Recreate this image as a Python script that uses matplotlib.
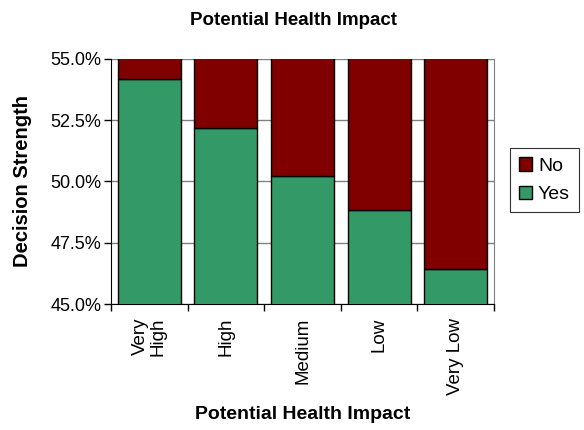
import matplotlib.pyplot as plt
import numpy as np
from matplotlib.ticker import FuncFormatter, FixedLocator

plt.rcParams['font.family'] = ['Liberation Sans', 'DejaVu Sans']

# share of "Yes" decisions per impact level, in percent
categories = ['Very\nHigh', 'High', 'Medium', 'Low', 'Very Low']
yes_pct = [54.17, 52.17, 50.22, 48.82, 46.44]
no_pct = [100 - v for v in yes_pct]

fig = plt.figure(figsize=(5.84, 4.30), dpi=100)
ax = fig.add_axes([0.190, 0.293, 0.656, 0.570])

x = np.arange(len(categories))
w = 0.82
ax.bar(x, yes_pct, width=w, color='#339966', edgecolor='black', linewidth=1.0,
       label='Yes', zorder=3)
ax.bar(x, no_pct, bottom=yes_pct, width=w, color='#800000', edgecolor='black',
       linewidth=1.0, label='No', zorder=3)

ax.set_xlim(-0.5, len(categories) - 0.5)
ax.set_ylim(45, 55)
ax.set_yticks([45, 47.5, 50, 52.5, 55])
ax.yaxis.set_major_formatter(FuncFormatter(lambda v, p: f'{v:.1f}%'))
ax.grid(axis='y', color='#808080', linewidth=1.0, zorder=0)

# ticks sit between categories, labels at the centres
ax.xaxis.set_major_locator(FixedLocator(np.arange(-0.5, len(categories), 1.0)))
ax.set_xticklabels([])
ax.xaxis.set_minor_locator(FixedLocator(x))
ax.set_xticklabels(categories, minor=True, rotation=90, fontsize=13.5,
                   va='top', ha='center', multialignment='right',
                   linespacing=1.0)
ax.tick_params(axis='x', which='minor', length=0, pad=10)
ax.tick_params(axis='x', which='major', length=5, width=1, color='black')
ax.tick_params(axis='y', length=5, width=1, labelsize=13, pad=2)

ax.spines['top'].set_visible(False)
ax.spines['right'].set_color('#808080')
ax.spines['left'].set_color('black')
ax.spines['bottom'].set_color('black')

ax.set_ylabel('Decision Strength', fontsize=14.5, fontweight='bold', labelpad=13)
ax.set_xlabel('Potential Health Impact', fontsize=14, fontweight='bold', labelpad=8)
fig.text(0.503, 0.953, 'Potential Health Impact', ha='center', va='center',
         fontsize=13.5, fontweight='bold')

handles, labels = ax.get_legend_handles_labels()
leg = fig.legend(handles[::-1], labels[::-1], loc='center left',
                 bbox_to_anchor=(0.873, 0.581), fontsize=14, frameon=True,
                 fancybox=False, edgecolor='black', handlelength=0.7,
                 handleheight=0.7, handletextpad=0.3, borderpad=0.45,
                 labelspacing=0.55, borderaxespad=0)
leg.get_frame().set_linewidth(0.8)

fig.savefig('out.png', dpi=100)
